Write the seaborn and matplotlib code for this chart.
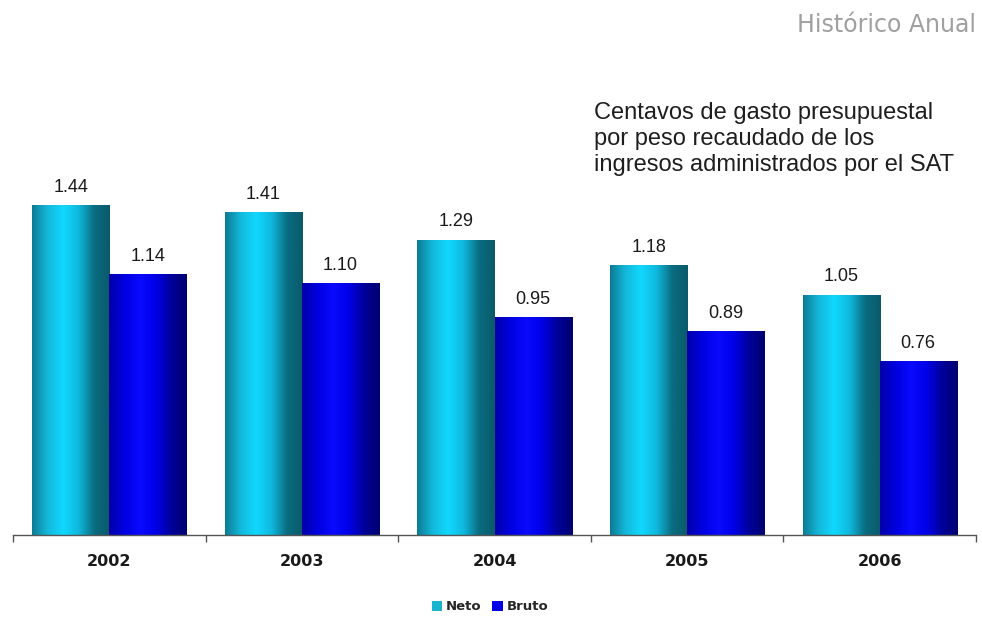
import numpy as np
import pandas as pd
import matplotlib
matplotlib.use("Agg")
import matplotlib.pyplot as plt
from matplotlib.colors import LinearSegmentedColormap
from matplotlib.patches import Patch
import seaborn as sns

years = ["2002", "2003", "2004", "2005", "2006"]
neto = [1.44, 1.41, 1.29, 1.18, 1.05]
bruto = [1.14, 1.10, 0.95, 0.89, 0.76]
series = ["Neto", "Bruto"]

df = pd.DataFrame({
    "year": years * 2,
    "value": neto + bruto,
    "serie": ["Neto"] * len(years) + ["Bruto"] * len(years),
})

sns.set_theme(style="white")
plt.rcParams["font.family"] = ["Liberation Sans", "DejaVu Sans"]

fig = plt.figure(figsize=(9.82, 6.24), dpi=100)
ax = fig.add_axes([13 / 982, 89 / 624, 963 / 982, 457 / 624])

base_colors = {"Neto": "#1ab4cf", "Bruto": "#0000e6"}
sns.barplot(data=df, x="year", y="value", hue="serie", order=years,
            hue_order=series, palette=base_colors, width=0.8,
            linewidth=0, ax=ax, legend=False)

# cylinder-style shading across each bar
cmaps = {
    "Neto": LinearSegmentedColormap.from_list(
        "neto", ["#0c7a94", "#14b8da", "#10d8ff", "#0fb8dc", "#0a6c80", "#0a5a6a"]),
    "Bruto": LinearSegmentedColormap.from_list(
        "bruto", ["#0000a8", "#0000e0", "#0a0aff", "#0000e8", "#00009a", "#000070"]),
}
grad = np.linspace(0, 1, 256).reshape(1, -1)
ax.set_ylim(0, 2.0)
ax.set_xlim(-0.5, len(years) - 0.5)

for container, name in zip(ax.containers, series):
    for bar, val in zip(container, df.loc[df.serie == name, "value"]):
        x0 = bar.get_x()
        w = bar.get_width()
        h = bar.get_height()
        bar.set_alpha(0)
        ax.imshow(grad, extent=(x0, x0 + w, 0, h), aspect="auto",
                  cmap=cmaps[name], zorder=2, interpolation="bicubic")
        ax.text(x0 + w / 2, h + 0.08, f"{val:.2f}", ha="center", va="center",
                fontsize=13, color="#1a1a1a")

ax.set_xlim(-0.5, len(years) - 0.5)
ax.set_ylim(0, 2.0)

for side in ["top", "right", "left"]:
    ax.spines[side].set_visible(False)
ax.spines["bottom"].set_color("#555555")
ax.spines["bottom"].set_linewidth(1.0)
ax.set_yticks([])
ax.set_xlabel("")
ax.set_ylabel("")
ax.tick_params(axis="x", which="major", length=0, pad=14, labelsize=11.5,
               labelcolor="#1a1a1a")
for lbl in ax.get_xticklabels():
    lbl.set_fontweight("bold")
    lbl.set_family(["DejaVu Sans"])
ax.set_xticks(np.arange(-0.5, len(years), 1.0), minor=True)
ax.tick_params(axis="x", which="minor", bottom=True, length=5, width=1,
               color="#555555", direction="out")

fig.text(976 / 982, 1 - 25 / 624, "Histórico Anual", ha="right", va="center",
         fontsize=17, color="#a0a0a0", family=["DejaVu Sans"])

fig.text(594 / 982, 1 - 139 / 624,
         "Centavos de gasto presupuestal\npor peso recaudado de los\ningresos administrados por el SAT",
         ha="left", va="center", fontsize=17, color="#1e1e1e", linespacing=1.22)

handles = [Patch(facecolor=base_colors[s], edgecolor="none", label=s) for s in series]
fig.legend(handles=handles, loc="center", bbox_to_anchor=(490 / 982, 1 - 607 / 624),
           ncol=2, frameon=False, handlelength=0.8, handleheight=0.8,
           handletextpad=0.3, columnspacing=0.8,
           prop={"size": 9.5, "weight": "bold", "family": "DejaVu Sans"})

fig.savefig("out.png", dpi=100, facecolor="white")
